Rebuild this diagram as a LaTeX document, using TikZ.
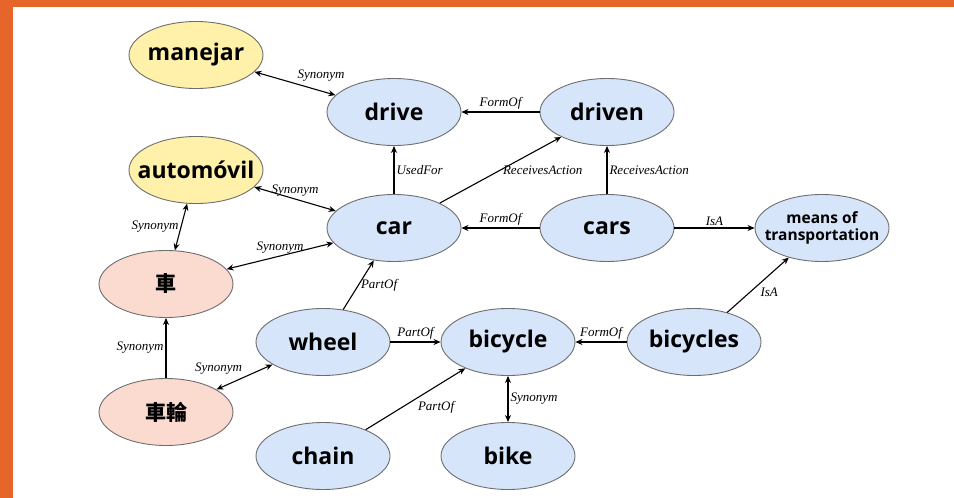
\documentclass[tikz,border=0pt]{standalone}
\usepackage{fontspec}
\setmainfont{Open Sans}
\newfontfamily\labelfont{Liberation Serif}
\newfontfamily\cjk{Noto Sans CJK SC}
\usepackage{tikz}
\usetikzlibrary{shapes.geometric, arrows.meta, positioning}

\definecolor{frameorange}{HTML}{E5652A}
\definecolor{wordblue}{HTML}{D6E5FA}
\definecolor{wordyellow}{HTML}{FFF0AA}
\definecolor{wordpink}{HTML}{FBDAD0}
\definecolor{rimgray}{HTML}{6E6E6E}

\begin{document}
\begin{tikzpicture}[x=1pt, y=-1pt,
    word/.style={ellipse, draw=rimgray, line width=0.9pt, fill=wordblue,
        minimum width=134pt, minimum height=67pt, inner xsep=-16pt, inner ysep=0pt,
        font=\fontsize{23}{26}\selectfont\bfseries},
    spanish/.style={word, fill=wordyellow},
    japanese/.style={word, fill=wordpink, font=\fontsize{21}{24}\selectfont\cjk\bfseries},
    rel/.style={line width=1.1pt, -{Stealth[length=7pt, width=6pt]}},
    syn/.style={rel, {Stealth[length=7pt, width=6pt]}-{Stealth[length=7pt, width=6pt]}},
    lab/.style={font=\fontsize{13}{14}\selectfont\labelfont\itshape, inner sep=2pt}]
    % frame
    \useasboundingbox (0,0) rectangle (954,498);
    \fill[frameorange] (0,0) rectangle (954,498);
    \fill[white] (13,7) rectangle (954,498);

    % words
    \node[spanish] (manejar) at (196,55) {manejar};
    \node[spanish] (automovil) at (196,170) {automóvil};
    \node[word] (drive) at (394,112) {drive};
    \node[word] (driven) at (607,112) {driven};
    \node[word] (car) at (394,228) {car};
    \node[word] (cars) at (607,228) {cars};
    \node[word, font=\fontsize{15.5}{17.5}\selectfont\bfseries, align=center] (means) at (822,228) {means of\\transportation};
    \node[japanese] (kuruma) at (166,284) {車};
    \node[japanese] (sharin) at (166,412) {車輪};
    \node[word] (wheel) at (323,342) {wheel};
    \node[word] (bicycle) at (508,342) {bicycle};
    \node[word] (bicycles) at (694,342) {bicycles};
    \node[word] (chain) at (323,456) {chain};
    \node[word] (bike) at (508,456) {bike};

    % relations
    \draw[syn] (manejar) -- node[lab, above right] {Synonym} (drive);
    \draw[rel] (driven) -- node[lab, above] {FormOf} (drive);
    \draw[rel] (car) -- node[lab, right] {UsedFor} (drive);
    \draw[syn] (automovil) -- node[lab, above] {Synonym} (car);
    \draw[rel] (car) -- node[lab, right] {ReceivesAction} (driven);
    \draw[rel] (cars) -- node[lab, right] {ReceivesAction} (driven);
    \draw[rel] (cars) -- node[lab, above] {FormOf} (car);
    \draw[rel] (cars) -- node[lab, above] {IsA} (means);
    \draw[syn] (kuruma) -- node[lab, left] {Synonym} (automovil);
    \draw[syn] (kuruma) -- node[lab, above] {Synonym} (car);
    \draw[rel] (wheel) -- node[lab, right] {PartOf} (car);
    \draw[rel] (sharin) -- node[lab, left] {Synonym} (kuruma);
    \draw[syn] (sharin) -- node[lab, above left] {Synonym} (wheel);
    \draw[rel] (wheel) -- node[lab, above] {PartOf} (bicycle);
    \draw[rel] (chain) -- node[lab, below right] {PartOf} (bicycle);
    \draw[syn] (bicycle) -- node[lab, right] {Synonym} (bike);
    \draw[rel] (bicycles) -- node[lab, above] {FormOf} (bicycle);
    \draw[rel] (bicycles) -- node[lab, below right] {IsA} (means);
\end{tikzpicture}
\end{document}
